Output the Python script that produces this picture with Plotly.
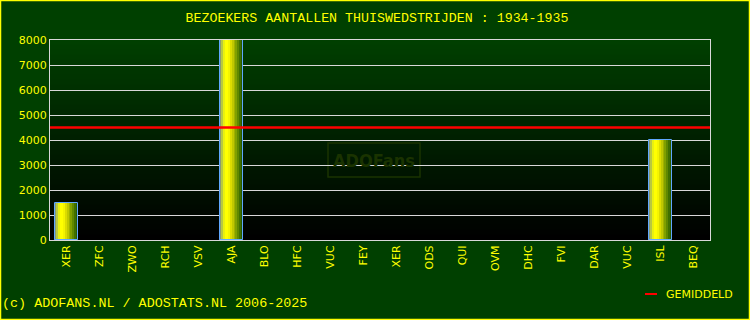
import plotly.graph_objects as go
import numpy as np

title = "BEZOEKERS AANTALLEN THUISWEDSTRIJDEN : 1934-1935"
categories = ["XER", "ZFC", "ZWO", "RCH", "VSV", "AJA", "BLO", "HFC", "VUC", "FEY",
              "XER", "ODS", "QUI", "OVM", "DHC", "FVI", "DAR", "VUC", "ISL", "BEQ"]
visitors = [1500, 0, 0, 0, 0, 8000, 0, 0, 0, 0, 0, 0, 0, 0, 0, 0, 0, 0, 4000, 0]
average = 4500
y_ticks = [0, 1000, 2000, 3000, 4000, 5000, 6000, 7000, 8000]
legend_label = "GEMIDDELD"

# gradient colours across a bar (left -> right)
strip_colors = ["#8a9a70", "#b8c840", "#e8f010", "#ffff00", "#ffff00", "#f4f400",
                "#dcdc00", "#c0c800", "#a0b000", "#80a000", "#608800", "#407000", "#2a5a00"]

xs = np.arange(len(categories))
vis_plot = [v if v > 0 else None for v in visitors]
bw = 0.7
n = len(strip_colors)
sw = bw / n

fig = go.Figure()
for i, c in enumerate(strip_colors):
    fig.add_trace(go.Bar(
        x=xs, y=vis_plot, width=[sw * 1.02] * len(xs), offset=-bw / 2 + i * sw,
        marker=dict(color=c, line=dict(width=0)), showlegend=False, hoverinfo="skip"))
# outline
fig.add_trace(go.Bar(
    x=xs, y=vis_plot, width=bw,
    marker=dict(color="rgba(0,0,0,0)", line=dict(color="#60a8ff", width=1)),
    showlegend=False, hoverinfo="skip"))
# average line
fig.add_trace(go.Scatter(
    x=[-0.5, len(categories) - 0.5], y=[average, average], mode="lines",
    line=dict(color="#ff0000", width=2.5), name=legend_label, showlegend=False))

shapes = []
# vertical gradient background of plot area
nb = 40
top = np.array([0x00, 0x40, 0x00])
bot = np.array([0x00, 0x00, 0x00])
for k in range(nb):
    t = (k + 0.5) / nb
    col = top * (1 - t) + bot * t
    shapes.append(dict(type="rect", xref="x domain", yref="y domain",
                       x0=0, x1=1, y0=1 - (k + 1) / nb, y1=1 - k / nb + 0.001,
                       fillcolor="rgb(%d,%d,%d)" % tuple(col.astype(int)),
                       line=dict(width=0), layer="below"))
# figure border (yellow)
W, H = 750, 320
L, R, T, B = 50, 40, 40, 80
pw, ph = W - L - R, H - T - B
shapes.append(dict(type="rect", xref="paper", yref="paper",
                   x0=(-L + 0.5) / pw, x1=(W - L - 0.5) / pw,
                   y0=(-B + 0.5) / ph, y1=(H - B - 0.5) / ph,
                   line=dict(color="#ffff00", width=1.5), fillcolor="rgba(0,0,0,0)"))
# watermark box
shapes.append(dict(type="rect", xref="paper", yref="paper",
                   x0=(328 - L) / pw, x1=(420 - L) / pw,
                   y0=(H - B - 177) / ph, y1=(H - B - 143) / ph,
                   line=dict(color="#1a3300", width=1.5), fillcolor="rgba(0,0,0,0)",
                   layer="below"))
# legend key line
shapes.append(dict(type="line", xref="paper", yref="paper",
                   x0=(645 - L) / pw, x1=(657 - L) / pw,
                   y0=(H - B - 294) / ph, y1=(H - B - 294) / ph,
                   line=dict(color="#ff0000", width=2)))

annotations = [
    dict(text="<b>ADOFans</b>", xref="paper", yref="paper",
         x=(374 - L) / pw, y=(H - B - 160) / ph, showarrow=False,
         font=dict(family="DejaVu Sans Condensed, DejaVu Sans", size=18, color="#1a3300"),
         xanchor="center", yanchor="middle"),
    dict(text="(c) ADOFANS.NL / ADOSTATS.NL 2006-2025", xref="paper", yref="paper",
         x=(0 - L) / pw, y=(H - B - 303) / ph, showarrow=False,
         font=dict(family="Liberation Mono, DejaVu Sans Mono", size=13.4, color="#ffff00"),
         xanchor="left", yanchor="middle"),
    dict(text=legend_label, xref="paper", yref="paper",
         x=(664 - L) / pw, y=(H - B - 294) / ph, showarrow=False,
         font=dict(family="DejaVu Sans", size=11, color="#ffff00"),
         xanchor="left", yanchor="middle"),
]

fig.update_layout(
    width=W, height=H, margin=dict(l=L, r=R, t=T, b=B, autoexpand=False),
    paper_bgcolor="#004000", plot_bgcolor="rgba(0,0,0,0)",
    barmode="overlay", bargap=0, showlegend=False,
    title=dict(text=title, x=(377 - L) / pw, xref="paper", y=1 - 17 / H, yref="container",
               xanchor="center", yanchor="middle",
               font=dict(family="Liberation Mono, DejaVu Sans Mono", size=13.3, color="#ffff00")),
    xaxis=dict(tickmode="array", tickvals=list(xs), ticktext=categories,
               range=[-0.5, len(categories) - 0.5], tickangle=-90,
               tickfont=dict(family="DejaVu Sans", size=11, color="#ffff00"),
               showgrid=False, zeroline=False, ticks="", ticklen=0,
               showline=True, linecolor="#d8d8d8", linewidth=1, mirror=True),
    yaxis=dict(range=[0, 8000], tickvals=y_ticks, showgrid=True, gridcolor="#d8d8d8",
               gridwidth=1, zeroline=False, ticks="",
               tickfont=dict(family="DejaVu Sans", size=11, color="#ffff00"),
               showline=True, linecolor="#d8d8d8", linewidth=1, mirror=True),
    shapes=shapes, annotations=annotations,
)

fig.write_html("out.html")
